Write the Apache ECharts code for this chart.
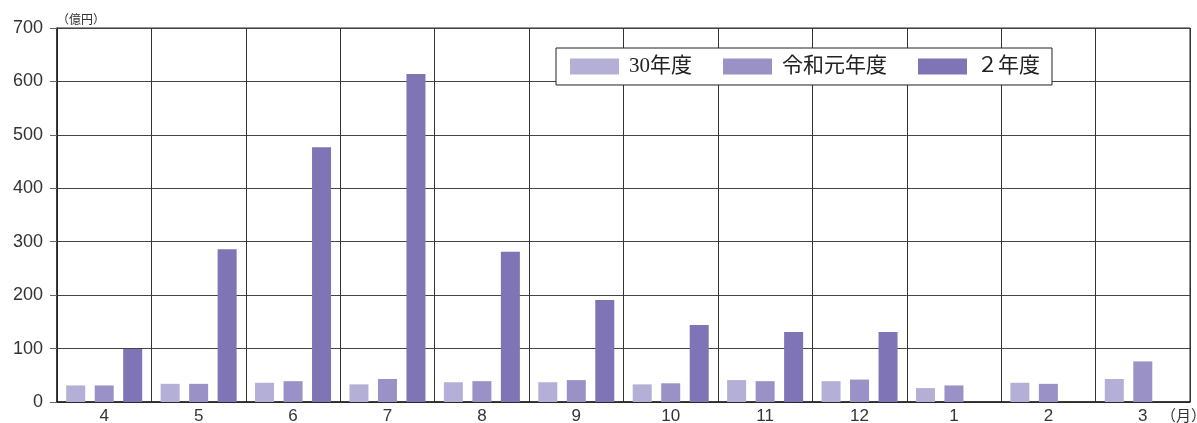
<!DOCTYPE html>
<html>
<head>
<meta charset="utf-8">
<script src="https://cdn.jsdelivr.net/npm/echarts@6/dist/echarts.min.js"></script>
<style>
html, body { margin: 0; padding: 0; background: #fff; }
#main { width: 1197px; height: 423px; }
</style>
</head>
<body>
<div id="main"></div>
<script>
// 月（年度順）
var months = ['4', '5', '6', '7', '8', '9', '10', '11', '12', '1', '2', '3'];
var seriesNames = ['30年度', '令和元年度', '２年度'];
// 単位：億円
var fy30 = [31, 34, 36, 33, 37, 37, 33, 41, 39, 26, 36, 43];
var reiwa1 = [31, 34, 39, 43, 39, 41, 35, 39, 42, 31, 34, 76];
var reiwa2 = [99, 286, 477, 614, 281, 191, 144, 131, 131, null, null, null];

var colors = ['#b4afd6', '#9a91c7', '#7f74b5'];
var labelFont = "'Liberation Sans', 'Noto Sans CJK JP', sans-serif";
var legendFont = "'Liberation Serif', 'Noto Sans CJK JP', serif";

var myChart = echarts.init(document.getElementById('main'));

var option = {
	backgroundColor: '#fff',
	animation: false,
	grid: {
		left: 57,
		right: 7,
		top: 28,
		bottom: 21,
		containLabel: false,
		outerBoundsMode: 'none',
		show: true,
		borderColor: '#222',
		borderWidth: 1
	},
	legend: {
		left: 556,
		top: 48,
		orient: 'horizontal',
		itemWidth: 49,
		itemHeight: 16,
		itemGap: 31,
		padding: [8, 12, 8, 14],
		borderColor: '#222',
		borderWidth: 1,
		backgroundColor: '#fff',
		icon: 'rect',
		textStyle: {
			fontFamily: legendFont,
			fontSize: 21,
			color: '#222',
			padding: [0, 0, 0, 5]
		},
		data: seriesNames
	},
	xAxis: {
		type: 'category',
		data: months,
		boundaryGap: true,
		axisLine: { show: true, lineStyle: { color: '#222', width: 1.5 } },
		axisTick: { show: false },
		axisLabel: {
			interval: 0,
			margin: 6,
			fontSize: 17,
			fontFamily: labelFont,
			color: '#333'
		},
		splitLine: {
			show: true,
			interval: 0,
			lineStyle: { color: '#333', width: 1 }
		}
	},
	yAxis: {
		type: 'value',
		min: 0,
		max: 700,
		interval: 100,
		name: '（億円）',
		nameLocation: 'end',
		nameGap: 3,
		nameTextStyle: {
			align: 'left',
			fontSize: 12,
			fontFamily: "'Noto Sans CJK JP', sans-serif",
			color: '#333'
		},
		axisLine: { show: true, lineStyle: { color: '#222', width: 1.5 } },
		axisTick: { show: true, length: 7, lineStyle: { color: '#666' } },
		axisLabel: {
			margin: 14,
			fontSize: 18,
			fontFamily: labelFont,
			color: '#333'
		},
		splitLine: {
			show: true,
			lineStyle: { color: '#444', width: 1 }
		}
	},
	graphic: [{
		type: 'text',
		left: 1161,
		top: 408,
		style: {
			text: '（月）',
			font: "15px 'Noto Sans CJK JP', sans-serif",
			fill: '#333'
		}
	}],
	series: [{
		name: seriesNames[0],
		type: 'bar',
		barWidth: 19,
		barGap: '50%',
		itemStyle: { color: colors[0] },
		data: fy30
	}, {
		name: seriesNames[1],
		type: 'bar',
		barWidth: 19,
		barGap: '50%',
		itemStyle: { color: colors[1] },
		data: reiwa1
	}, {
		name: seriesNames[2],
		type: 'bar',
		barWidth: 19,
		barGap: '50%',
		itemStyle: { color: colors[2] },
		data: reiwa2
	}]
};

myChart.setOption(option);
</script>
</body>
</html>
